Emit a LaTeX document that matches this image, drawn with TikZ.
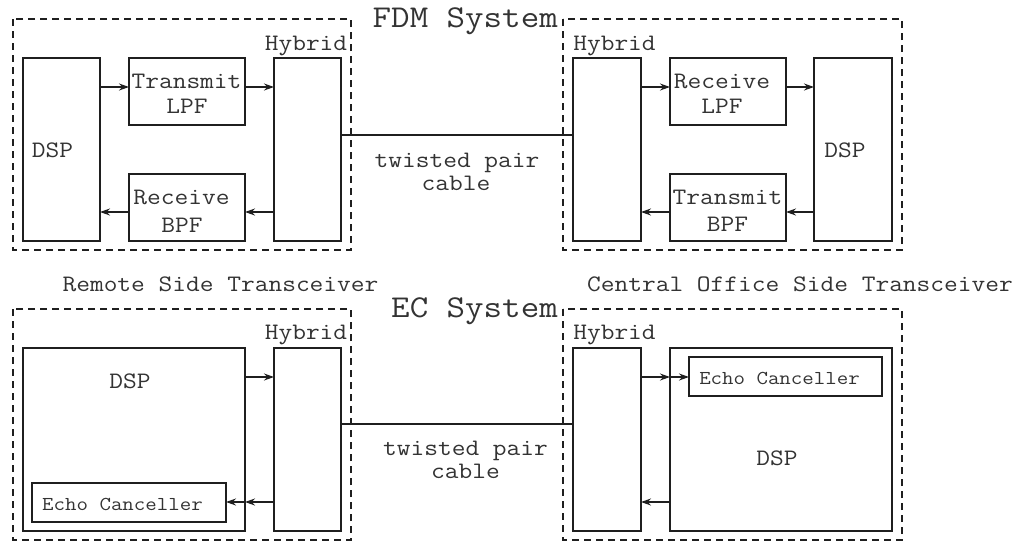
\documentclass[tikz,border=0pt]{standalone}
\usepackage{fontspec}
\setmonofont[FakeStretch=1.13]{Latin Modern Mono}
\usetikzlibrary{arrows.meta}
\definecolor{ink}{gray}{0.12}
\definecolor{tink}{gray}{0.2}
\begin{document}
\begin{tikzpicture}[x=1pt,y=-1pt,
  blk/.style={draw=ink, line width=1.7pt, inner sep=0pt, outer sep=0pt},
  frm/.style={draw=ink, line width=1.5pt, dash pattern=on 7pt off 5pt},
  arr/.style={draw=ink, line width=1.4pt, -{Stealth[length=10pt,width=7pt]}},
  wire/.style={draw=ink, line width=1.4pt},
  txt/.style={text=tink, inner sep=0pt, anchor=base, font=\fontsize{23.6}{26}\ttfamily},
  small/.style={txt, font=\fontsize{19.7}{22}\ttfamily},
  big/.style={txt, font=\fontsize{31.8}{34}\ttfamily}]
\useasboundingbox (0,0) rectangle (1023,542);
% row coordinates
\coordinate (r1) at (0,87);
\coordinate (r2) at (0,212);
\coordinate (c1) at (0,135);
\coordinate (r3) at (0,377);
\coordinate (r4) at (0,502);
\coordinate (c2) at (0,424);
% ---------- FDM system ----------
\draw[frm] (13,19) rectangle (351,250);
\draw[frm] (563,19) rectangle (902,250);
\node[big, anchor=base east] (fdm) at (558,27) {FDM System};
\node[blk, minimum width=77pt, minimum height=183pt] (dspL) at (61.5,149.5) {};
\node[blk, minimum width=116pt, minimum height=67pt] (tlpf) at (187,91.5) {};
\node[blk, minimum width=116pt, minimum height=67pt] (rbpf) at (187,207.5) {};
\node[blk, minimum width=67pt, minimum height=183pt] (hybL) at (307.5,149.5) {};
\node[blk, minimum width=68pt, minimum height=183pt] (hybR) at (607,149.5) {};
\node[blk, minimum width=116pt, minimum height=67pt] (rlpf) at (728,91.5) {};
\node[blk, minimum width=116pt, minimum height=67pt] (tbpf) at (728,207.5) {};
\node[blk, minimum width=78pt, minimum height=183pt] (dspR) at (853,149.5) {};
\node[txt] (tDspL) at (52.5,157) {DSP};
\node[txt] (tDspR) at (845,157) {DSP};
\node[txt] (tHybL) at (306,50) {Hybrid};
\node[txt] (tHybR) at (614.5,50) {Hybrid};
\node[txt] (tTx1) at (186.5,88) {Transmit};
\node[txt] (tTx2) at (187,113) {LPF};
\node[txt] (tRx1) at (181.5,204) {Receive};
\node[txt] (tRx2) at (182,232) {BPF};
\node[txt] (tRr1) at (722,88) {Receive};
\node[txt] (tRr2) at (722,113) {LPF};
\node[txt] (tTr1) at (727.5,204) {Transmit};
\node[txt] (tTr2) at (727.5,231) {BPF};
\node[txt] (tTw1) at (457,167) {twisted pair};
\node[txt] (tTw2) at (456,190) {cable};
\draw[arr] (dspL.east |- r1) -- (tlpf.west |- r1);
\draw[arr] (tlpf.east |- r1) -- (hybL.west |- r1);
\draw[arr] (hybL.west |- r2) -- (rbpf.east |- r2);
\draw[arr] (rbpf.west |- r2) -- (dspL.east |- r2);
\draw[arr] (hybR.east |- r1) -- (rlpf.west |- r1);
\draw[arr] (rlpf.east |- r1) -- (dspR.west |- r1);
\draw[arr] (dspR.west |- r2) -- (tbpf.east |- r2);
\draw[arr] (tbpf.west |- r2) -- (hybR.east |- r2);
\draw[wire] (hybL.east |- c1) -- (hybR.west |- c1);
% ---------- labels ----------
\node[txt] (remote) at (220.5,291) {Remote Side Transceiver};
\node[txt] (central) at (800,291) {Central Office Side Transceiver};
% ---------- EC system ----------
\draw[frm] (13,309) rectangle (351,540);
\draw[frm] (563,309) rectangle (902,540);
\node[big, anchor=base east] (ec) at (558,317) {EC System};
\node[blk, minimum width=222pt, minimum height=183pt] (dspL2) at (134,439.5) {};
\node[blk, minimum width=194pt, minimum height=39pt] (echoL) at (129,502.5) {};
\node[blk, minimum width=67pt, minimum height=183pt] (hybL2) at (307.5,439.5) {};
\node[blk, minimum width=68pt, minimum height=183pt] (hybR2) at (607,439.5) {};
\node[blk, minimum width=222pt, minimum height=183pt] (dspR2) at (781,439.5) {};
\node[blk, minimum width=193pt, minimum height=39pt] (echoR) at (785.5,376.5) {};
\node[txt] (tDspL2) at (130,388) {DSP};
\node[txt] (tDspR2) at (777,465) {DSP};
\node[txt] (tHybL2) at (306,339) {Hybrid};
\node[txt] (tHybR2) at (614.5,339) {Hybrid};
\node[small] (tEchoL) at (122.5,510) {Echo Canceller};
\node[small] (tEchoR) at (779.5,384) {Echo Canceller};
\node[txt] (tTw3) at (465.5,455) {twisted pair};
\node[txt] (tTw4) at (465.5,478) {cable};
\draw[arr] (dspL2.east |- r3) -- (hybL2.west |- r3);
\draw[arr] (hybL2.west |- r4) -- (dspL2.east |- r4);
\draw[arr] (dspL2.east |- r4) -- (echoL.east |- r4);
\draw[arr] (hybR2.east |- r3) -- (dspR2.west |- r3);
\draw[arr] (dspR2.west |- r3) -- (echoR.west |- r3);
\draw[arr] (dspR2.west |- r4) -- (hybR2.east |- r4);
\draw[wire] (hybL2.east |- c2) -- (hybR2.west |- c2);
\end{tikzpicture}
\end{document}
